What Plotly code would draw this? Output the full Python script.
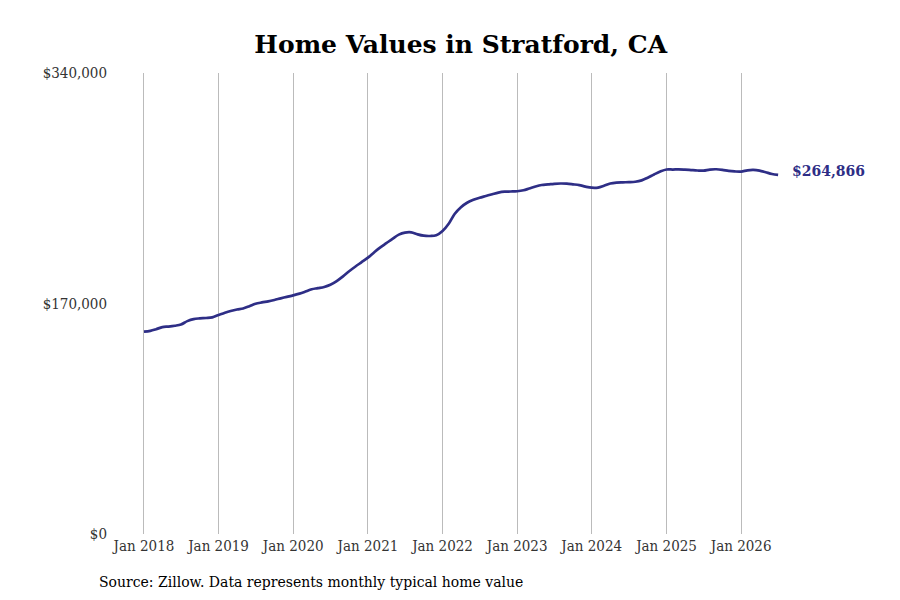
import pandas as pd
import plotly.graph_objects as go

# monthly typical home value, Jan 2018 - Jul 2026 (thousands of $)
values_k = [
    149.2, 149.8, 151.0, 152.6, 153.0, 153.6, 154.5, 157.0, 158.5, 159.0, 159.3, 159.8,
    161.5, 163.2, 164.5, 165.6, 166.3, 168.0, 169.8, 170.8, 171.6, 172.6, 173.8, 174.9,
    176.0, 177.3, 178.8, 180.5, 181.3, 182.2, 183.8, 186.5, 190.0, 193.8, 197.3, 200.5,
    203.8, 207.8, 211.2, 214.5, 217.7, 220.8, 222.3, 222.5, 221.0, 220.0, 219.8, 220.3,
    223.5, 229.0, 236.0, 241.0, 244.3, 246.5, 248.0, 249.3, 250.6, 251.8, 252.5, 252.6,
    252.8, 253.5, 254.8, 256.3, 257.4, 257.8, 258.3, 258.5, 258.4, 257.9, 257.3, 256.2,
    255.4, 255.5, 256.8, 258.5, 259.2, 259.4, 259.5, 259.8, 260.8, 262.8, 265.2, 267.3,
    268.8, 268.8, 268.9, 268.7, 268.4, 268.1, 268.0, 268.8, 269.0, 268.6, 267.8, 267.4,
    267.3, 268.2, 268.5, 268.0, 266.8, 265.5, 264.866,
]
dates = pd.date_range("2018-01-01", periods=len(values_k), freq="MS")
values = [v * 1000 for v in values_k]

tick_vals = [pd.Timestamp(f"{y}-01-01") for y in range(2018, 2027)]
tick_text = [f"Jan {y}" for y in range(2018, 2027)]
y_ticks = [0, 170000, 340000]
y_text = ["$0", "$170,000", "$340,000"]

line_color = "#2e2e86"
font = "DejaVu Serif Condensed, DejaVu Serif"

fig = go.Figure()
fig.add_trace(go.Scatter(
    x=dates, y=values, mode="lines",
    line=dict(color=line_color, width=2.7, shape="spline"),
    hoverinfo="x+y",
))
fig.add_annotation(
    x=dates[-1], y=values[-1], text=f"<b>${values[-1]:,.0f}</b>",
    showarrow=False, xanchor="left", xshift=12, yshift=4,
    font=dict(family="DejaVu Serif", size=14, color=line_color),
)
fig.add_annotation(
    x=-0.017, y=-0.105, xref="paper", yref="paper",
    text="Source: Zillow. Data represents monthly typical home value",
    showarrow=False, xanchor="left", yanchor="middle",
    font=dict(family="DejaVu Serif", size=14, color="black"),
)
fig.update_layout(
    width=900, height=600,
    paper_bgcolor="white", plot_bgcolor="white",
    margin=dict(l=100, r=126, t=65, b=74),
    showlegend=False,
    font=dict(family=font, size=15, color="#333333"),
    title=dict(text="<b>Home Values in Stratford, CA</b>", x=0.503, xanchor="center",
               y=0.94, yanchor="middle",
               font=dict(family="DejaVu Serif", size=25, color="black")),
    xaxis=dict(
        range=[pd.Timestamp("2017-07-09"), pd.Timestamp("2026-07-20")],
        tickvals=tick_vals, ticktext=tick_text,
        showgrid=True, gridcolor="#bbbbbb", gridwidth=1,
        zeroline=False, showline=False, ticks="", ticklabelstandoff=1,
    ),
    yaxis=dict(
        range=[0, 340000], tickvals=y_ticks, ticktext=y_text,
        showgrid=False, zeroline=False, showline=False, ticks="",
    ),
)
fig.write_html("out.html")
